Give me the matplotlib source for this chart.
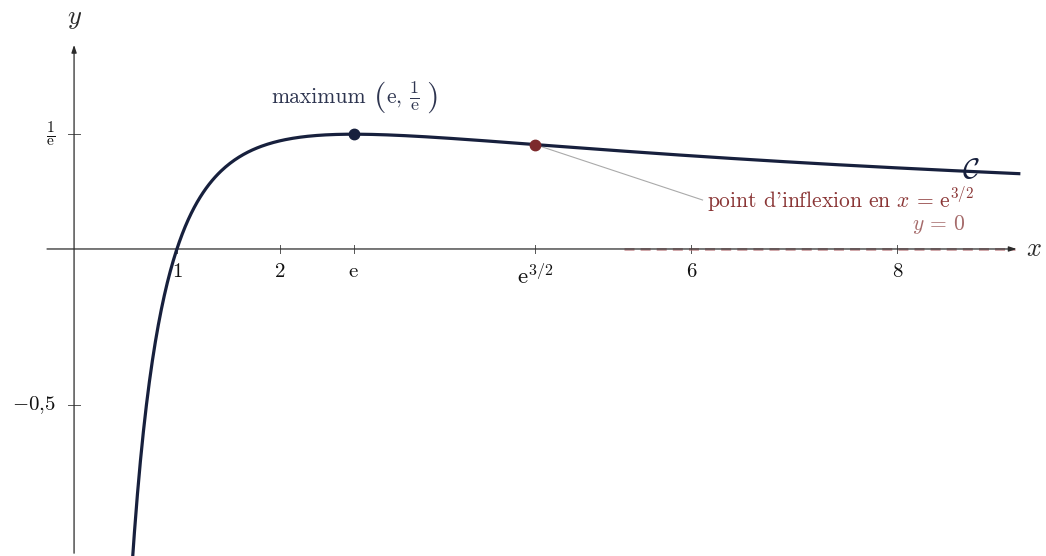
import numpy as np
import matplotlib
matplotlib.use("Agg")
import matplotlib.pyplot as plt

plt.rcParams["mathtext.fontset"] = "cm"
plt.rcParams["font.family"] = "serif"
plt.rcParams["font.serif"] = ["cmr10", "DejaVu Serif"]
plt.rcParams["axes.formatter.use_mathtext"] = True

E = np.e
# curve domain and special points
x_start, x_end = 0.5, 9.2
x_max, y_max = E, 1 / E
x_infl = E ** 1.5
y_infl = np.log(x_infl) / x_infl
asym_from, asym_to = 5.35, 9.15

xticks = [1, 2, E, x_infl, 6, 8]
xticklabels = ["1", "2", r"$\mathrm{e}$", r"$\mathrm{e}^{3/2}$", "6", "8"]
yticks = [1 / E, -0.5]
yticklabels = [r"$\frac{1}{\mathrm{e}}$", r"$-0{,}5$"]

NAVY = "#17203d"
RED = "#7d2a2c"
AXC = "#2b2b2b"

fig = plt.figure(figsize=(10.46, 5.56), dpi=100)
ax = fig.add_axes([0, 0, 1, 1])
ax.set_xlim(-0.720, 9.449)
ax.set_ylim(-0.984, 0.798)
ax.axis("off")
PX = 1 / 102.86  # one pixel in x data units

# axes with arrows
arr = dict(arrowstyle="-|>,head_length=0.45,head_width=0.15", color=AXC, lw=0.9)
ax.annotate("", xy=(9.19, 0), xytext=(-0.29, 0), arrowprops=arr)
ax.annotate("", xy=(0, 0.663), xytext=(0, -0.984), arrowprops=arr)
ax.text(9.25, 0, r"$x$", fontsize=19, va="center", ha="left", color=AXC)
ax.text(0, 0.70, r"$y$", fontsize=19, va="bottom", ha="center", color=AXC)

# tick marks (crosses)
for xt, lab in zip(xticks, xticklabels):
    ax.plot([xt, xt], [-0.013, 0.013], color="#555", lw=0.7)
    big = "3/2" in lab
    ax.text(xt, -0.045, lab, fontsize=16.5 if big else 15, ha="center", va="top", color="#111")
for yt, lab in zip(yticks, yticklabels):
    ax.plot([-0.06, 0.06], [yt, yt], color="#555", lw=0.7)
    ax.text(-0.18, yt, lab, fontsize=15 if yt < 0 else 16, ha="right", va="center", color="#111")

# asymptote y = 0
ax.plot([asym_from, asym_to], [0, 0], color="#b8777b", alpha=0.7, lw=2.0,
        dashes=(3.6, 2.2), zorder=2.5)

# curve
xs = np.linspace(x_start, x_end, 600)
ax.plot(xs, np.log(xs) / xs, color=NAVY, lw=2.3, solid_capstyle="butt", zorder=3)
ax.text(8.72, 0.25, r"$\mathcal{C}$", fontsize=21, color=NAVY, ha="center", va="center")

# maximum
ax.plot([x_max], [y_max], "o", color=NAVY, ms=7.5, zorder=4)
mc = "#2e3550"
base = 0.468
ax.text((271 - 74.1) * PX, base, "maximum", fontsize=15.5, color=mc, ha="left", va="baseline")
ax.text((374 - 74.1) * PX, 0.487, "(", fontsize=23, color=mc, ha="left", va="center")
ax.text((386 - 74.1) * PX, base, r"$\mathrm{e},$", fontsize=15.5, color=mc, ha="left", va="baseline")
ax.text((409 - 74.1) * PX, 0.49, r"$\frac{1}{\mathrm{e}}$", fontsize=18.5, color=mc, ha="left", va="center")
ax.text((426 - 74.1) * PX, 0.487, ")", fontsize=23, color=mc, ha="left", va="center")

# inflexion point
ax.plot([x_infl, 6.11], [y_infl, 0.157], color="#aaaaaa", lw=0.8, zorder=2)
ax.plot([x_infl], [y_infl], "o", color=RED, ms=7.5, zorder=4)
ax.text(6.153, 0.131, r"point d'inflexion en $x\,=\,\mathrm{e}^{3/2}$",
        fontsize=15.5, color="#8a3535", ha="left", va="baseline")
ax.text(8.40, 0.061, r"$y\,=\,0$", fontsize=15.5, color="#a56a6a", ha="center", va="baseline")

fig.savefig("out.png", dpi=100)
